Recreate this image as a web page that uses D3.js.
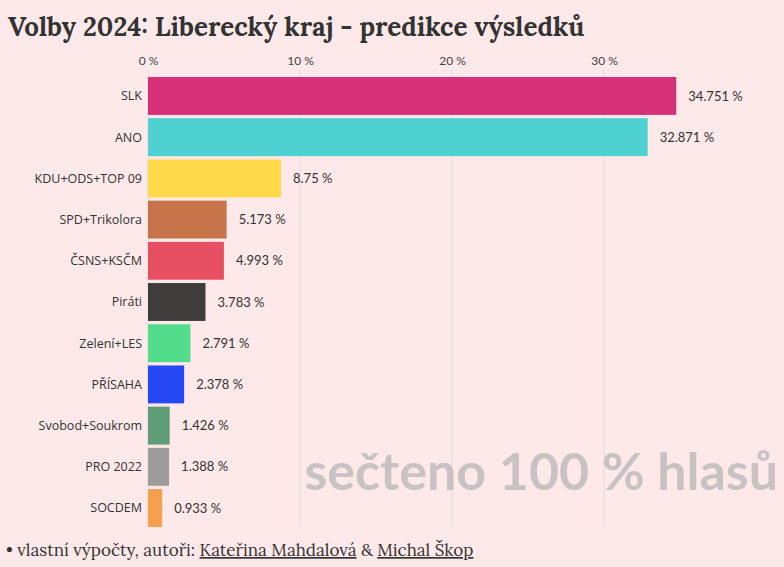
<!DOCTYPE html>
<html><head><meta charset="utf-8">
<script src="https://cdn.jsdelivr.net/npm/d3@7"></script>
<style>
body{margin:0;background:#fde9e9;}
svg{display:block;font-family:"Open Sans",sans-serif;}
</style></head><body>
<svg id="chart" width="784" height="567"></svg>
<script>
var parties = ["SLK","ANO","KDU+ODS+TOP 09","SPD+Trikolora","ČSNS+KSČM","Piráti","Zelení+LES","PŘÍSAHA","Svobod+Soukrom","PRO 2022","SOCDEM"];
var shares = [34.751,32.871,8.75,5.173,4.993,3.783,2.791,2.378,1.426,1.388,0.933];
var colors = ["#d63079","#4fd1d1","#fed94a","#c8744b","#e74f63","#3f3e3d","#52dc8c","#2649f5","#5f9c78","#9f9c9c","#f6a04f"];
var ticks = [0,10,20,30];

var svg = d3.select("#chart");
var x = d3.scaleLinear().domain([0,10]).range([148,300]);
var y = d3.scaleBand().domain(parties).range([77,527]).paddingInner(0.08);

svg.append("text").attr("x",8).attr("y",36)
  .attr("font-family","Lora, 'DejaVu Serif', serif").attr("font-weight","bold")
  .attr("font-size",26).attr("fill","#333")
  .text("Volby 2024: Liberecký kraj - predikce výsledků");

var ax = svg.append("g").attr("transform","translate(0,68)")
  .call(d3.axisTop(x).tickValues(ticks).tickSize(0).tickFormat(function(d){return d+" %";}));
ax.select(".domain").remove();
ax.selectAll("text").attr("font-size",12).attr("fill","#444").attr("font-family","Lato, sans-serif");

svg.selectAll("line.grid").data(ticks).enter().append("line")
  .attr("x1",function(d){return x(d);}).attr("x2",function(d){return x(d);})
  .attr("y1",70).attr("y2",527).attr("stroke","#ddd").attr("stroke-width",1);

svg.append("text").attr("x",778).attr("y",490).attr("text-anchor","end")
  .attr("font-family","Lato, sans-serif").attr("font-weight","bold")
  .attr("font-size",52).attr("fill","#c9c2c2").text("sečteno 100 % hlasů");

var g = svg.selectAll("g.bar").data(parties).enter().append("g");
g.append("rect").attr("x",x(0)).attr("y",function(d){return y(d);})
  .attr("width",function(d,i){return x(shares[i])-x(0);})
  .attr("height",y.bandwidth()).attr("fill",function(d,i){return colors[i];});
g.append("text").attr("x",x(0)-6).attr("y",function(d){return y(d)+y.bandwidth()/2;})
  .attr("dy",".35em").attr("text-anchor","end").attr("font-size",12.5).attr("fill","#333")
  .text(function(d){return d;});
g.append("text").attr("x",function(d,i){return x(shares[i])+12;})
  .attr("y",function(d){return y(d)+y.bandwidth()/2;})
  .attr("dy",".35em").attr("font-family","Lato, sans-serif").attr("font-size",13).attr("fill","#333")
  .text(function(d,i){return shares[i]+" %";});

var f = svg.append("text").attr("x",6).attr("y",556)
  .attr("font-family","Lora, 'DejaVu Serif', serif").attr("font-size",17).attr("fill","#333");
f.append("tspan").text("• vlastní výpočty, autoři: ");
f.append("tspan").attr("text-decoration","underline").text("Kateřina Mahdalová");
f.append("tspan").text(" & ");
f.append("tspan").attr("text-decoration","underline").text("Michal Škop");
</script>
</body></html>
